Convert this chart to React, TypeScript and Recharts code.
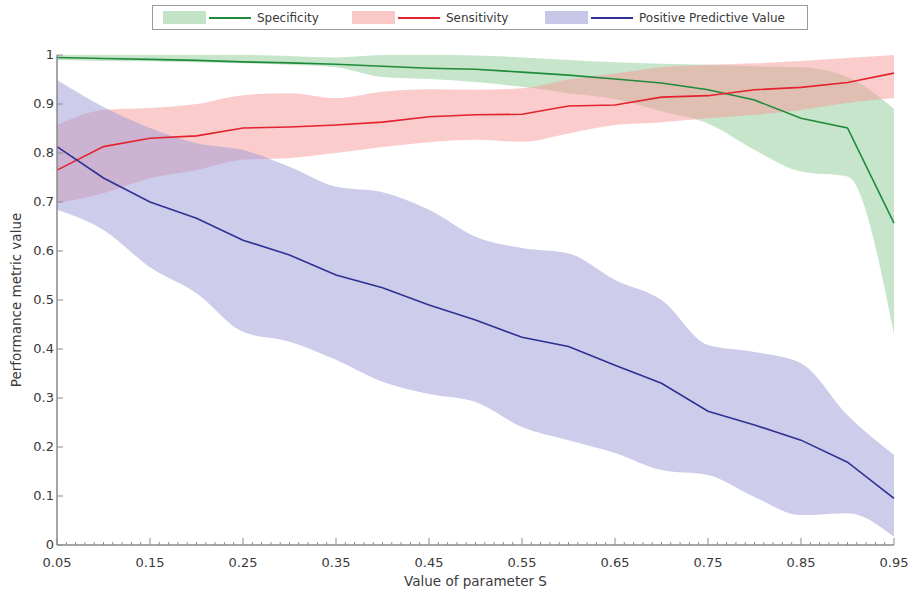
import React from 'react';
import { ComposedChart, Area, Line, XAxis, YAxis } from 'recharts';

const sValues = [0.05, 0.1, 0.15, 0.2, 0.25, 0.3, 0.35, 0.4, 0.45, 0.5, 0.55, 0.6, 0.65, 0.7, 0.75, 0.8, 0.85, 0.9, 0.95];

const specMean = [0.995, 0.993, 0.991, 0.989, 0.986, 0.984, 0.981, 0.977, 0.973, 0.971, 0.965, 0.959, 0.951, 0.943, 0.929, 0.908, 0.871, 0.851, 0.657];
const specLow = [0.99, 0.988, 0.987, 0.985, 0.983, 0.98, 0.975, 0.955, 0.951, 0.945, 0.935, 0.922, 0.91, 0.885, 0.86, 0.806, 0.762, 0.752, 0.43];
const specHigh = [1, 1, 1, 1, 1, 0.998, 0.995, 1, 1, 0.999, 0.995, 0.99, 0.985, 0.982, 0.98, 0.977, 0.975, 0.955, 0.89];

const sensMean = [0.765, 0.813, 0.83, 0.835, 0.851, 0.853, 0.857, 0.863, 0.874, 0.878, 0.879, 0.896, 0.898, 0.914, 0.917, 0.929, 0.934, 0.944, 0.963];
const sensLow = [0.698, 0.718, 0.749, 0.765, 0.786, 0.79, 0.8, 0.812, 0.822, 0.827, 0.823, 0.84, 0.857, 0.863, 0.871, 0.878, 0.888, 0.902, 0.912];
const sensHigh = [0.857, 0.888, 0.892, 0.9, 0.918, 0.922, 0.912, 0.925, 0.93, 0.929, 0.932, 0.95, 0.962, 0.975, 0.98, 0.983, 0.988, 0.994, 1.0];

const ppvMean = [0.813, 0.749, 0.7, 0.667, 0.622, 0.592, 0.551, 0.525, 0.49, 0.459, 0.424, 0.405, 0.367, 0.33, 0.273, 0.245, 0.214, 0.169, 0.095];
const ppvLow = [0.684, 0.643, 0.567, 0.514, 0.435, 0.415, 0.378, 0.333, 0.308, 0.292, 0.241, 0.214, 0.188, 0.153, 0.143, 0.098, 0.061, 0.065, 0.017];
const ppvHigh = [0.949, 0.894, 0.851, 0.82, 0.806, 0.772, 0.731, 0.72, 0.684, 0.629, 0.606, 0.595, 0.541, 0.5, 0.408, 0.394, 0.371, 0.265, 0.184];

const yTicks = [0, 0.1, 0.2, 0.3, 0.4, 0.5, 0.6, 0.7, 0.8, 0.9, 1];
const xMajorTicks = [0.05, 0.15, 0.25, 0.35, 0.45, 0.55, 0.65, 0.75, 0.85, 0.95];
// minor ticks every 0.01
const xAllTicks = Array.from({ length: 91 }, (_, i) => Math.round((0.05 + i * 0.01) * 100) / 100);

const data = sValues.map((s, i) => ({
  s,
  spec: specMean[i],
  specBand: [specLow[i], specHigh[i]],
  sens: sensMean[i],
  sensBand: [sensLow[i], sensHigh[i]],
  ppv: ppvMean[i],
  ppvBand: [ppvLow[i], ppvHigh[i]],
}));

const FONT = '"DejaVu Sans", Verdana, sans-serif';
const AXIS = '#8a8a8a';
const TEXT = '#3a3a3a';

const GREEN = '#1f8a3b';
const RED = '#e3232c';
const BLUE = '#2e3192';
const GREEN_FILL = '#8fcc98';
const RED_FILL = '#f79a9a';
const BLUE_FILL = '#9c99d6';

const XTick = (props: any) => {
  const { x, y, payload } = props;
  const v = payload.value;
  const major = xMajorTicks.some((t) => Math.abs(t - v) < 1e-6);
  return (
    <g>
      <line x1={x} x2={x} y1={y} y2={y - (major ? 7 : 3)} stroke={AXIS} strokeWidth={1} />
      {major && (
        <text x={x} y={y + 22} textAnchor="middle" fill={TEXT} fontSize={13} fontFamily={FONT}>
          {v}
        </text>
      )}
    </g>
  );
};

const YTick = (props: any) => {
  const { x, y, payload } = props;
  return (
    <g>
      <line x1={x} x2={x + 6} y1={y} y2={y} stroke={AXIS} strokeWidth={1} />
      <text x={x - 3} y={y + 4} textAnchor="end" fill={TEXT} fontSize={13} fontFamily={FONT}>
        {payload.value}
      </text>
    </g>
  );
};

const legendItems = [
  { label: 'Specificity', fill: GREEN_FILL, line: GREEN, left: 10 },
  { label: 'Sensitivity', fill: RED_FILL, line: RED, left: 199 },
  { label: 'Positive Predictive Value', fill: BLUE_FILL, line: BLUE, left: 392 },
];

export default function App() {
  return (
    <div style={{ position: 'absolute', left: 0, top: 0, width: 914, height: 592, background: '#fff' }}>
      <div
        style={{
          position: 'absolute',
          left: 152,
          top: 5,
          width: 656,
          height: 25,
          border: '1px solid #9a9a9a',
          boxSizing: 'border-box',
          fontFamily: FONT,
          fontSize: 12,
          color: TEXT,
        }}
      >
        {legendItems.map((it) => (
          <div key={it.label} style={{ position: 'absolute', left: it.left, top: 0, height: 23, display: 'flex', alignItems: 'center' }}>
            <div style={{ width: 43, height: 13, background: it.fill, opacity: 0.55 }} />
            <div style={{ width: 42, height: 2, background: it.line, marginLeft: 3 }} />
            <span style={{ marginLeft: 6 }}>{it.label}</span>
          </div>
        ))}
      </div>
      <ComposedChart width={914} height={592} data={data} margin={{ top: 55, right: 20, bottom: 0, left: 0 }}>
        <XAxis
          dataKey="s"
          type="number"
          domain={[0.05, 0.95]}
          ticks={xAllTicks}
          interval={0}
          tickSize={0}
          tickMargin={0}
          tick={<XTick />}
          height={47}
          stroke={AXIS}
          strokeWidth={1.5}
          label={({ viewBox }: any) => (
            <text
              x={viewBox.x + viewBox.width / 2}
              y={viewBox.y + 41}
              textAnchor="middle"
              fill={TEXT}
              fontSize={13.5}
              fontFamily={FONT}
            >
              Value of parameter S
            </text>
          )}
        />
        <YAxis
          type="number"
          domain={[0, 1]}
          ticks={yTicks}
          interval={0}
          tickSize={0}
          tickMargin={0}
          tick={<YTick />}
          width={57}
          stroke={AXIS}
          strokeWidth={1.5}
          label={({ viewBox }: any) => {
            const cy = viewBox.y + viewBox.height / 2;
            return (
              <text
                x={21}
                y={cy}
                transform={`rotate(-90, 21, ${cy})`}
                textAnchor="middle"
                fill={TEXT}
                fontSize={13.5}
                fontFamily={FONT}
              >
                Performance metric value
              </text>
            );
          }}
        />
        <Area dataKey="specBand" type="monotone" stroke="none" fill={GREEN_FILL} fillOpacity={0.5} isAnimationActive={false} />
        <Area dataKey="sensBand" type="monotone" stroke="none" fill={RED_FILL} fillOpacity={0.5} isAnimationActive={false} />
        <Area dataKey="ppvBand" type="monotone" stroke="none" fill={BLUE_FILL} fillOpacity={0.5} isAnimationActive={false} />
        <Line dataKey="spec" type="linear" stroke={GREEN} strokeWidth={1.6} dot={false} isAnimationActive={false} />
        <Line dataKey="sens" type="linear" stroke={RED} strokeWidth={1.6} dot={false} isAnimationActive={false} />
        <Line dataKey="ppv" type="linear" stroke={BLUE} strokeWidth={1.6} dot={false} isAnimationActive={false} />
      </ComposedChart>
    </div>
  );
}
